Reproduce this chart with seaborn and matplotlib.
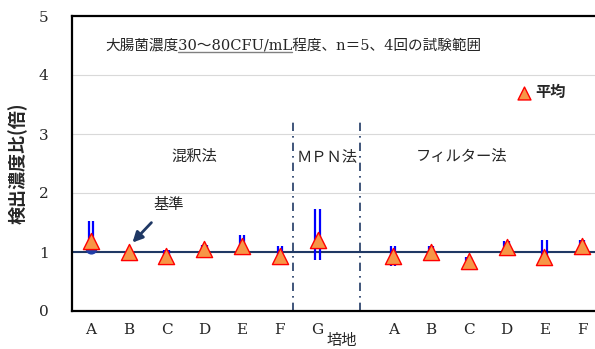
import numpy as np
import pandas as pd
import matplotlib
matplotlib.use("Agg")
import matplotlib.pyplot as plt
import seaborn as sns

# --- data ---
labels = ["A", "B", "C", "D", "E", "F", "G", "", "A", "B", "C", "D", "E", "F"]
mean_ratio = [1.18, 1.00, 0.93, 1.05, 1.11, 0.93, 1.20, np.nan,
              0.93, 1.00, 0.85, 1.09, 0.92, 1.10]
range_low = [1.07, 0.98, 0.92, 1.00, 1.08, 0.78, 0.87, np.nan,
             0.77, 0.97, 0.85, 1.02, 0.92, 1.03]
range_high = [1.52, 1.02, 1.04, 1.12, 1.28, 1.10, 1.73, np.nan,
              1.11, 1.10, 0.91, 1.19, 1.20, 1.21]
extra_x = [0]
extra_y = [1.07]
baseline = 1.0
method_split = [5.35, 7.12]
method_names = ["混釈法", "ＭＰＮ法", "フィルター法"]
method_pos = [2.75, 6.25, 9.8]
title_text = "大腸菌濃度30〜80CFU/mL程度、n＝5、4回の試験範囲"

sns.set_style("white")
plt.rcParams["font.family"] = ["Noto Sans CJK JP", "DejaVu Sans"]
serif = ["DejaVu Serif", "Noto Sans CJK JP"]

df = pd.DataFrame({"x": np.arange(len(labels)), "y": mean_ratio,
                   "lo": range_low, "hi": range_high})

fig = plt.figure(figsize=(5.95, 3.49), dpi=100)
ax = fig.add_axes([72 / 595, 1 - 311 / 349, 529 / 595, 295 / 349])

ax.set_xlim(-0.5, len(labels) - 0.5)
ax.set_ylim(0, 5)
for yv in [1, 2, 3, 4]:
    ax.axhline(yv, color="#d9d9d9", lw=0.8, zorder=0)
ax.axhline(baseline, color="#1f3864", lw=1.5, zorder=1)
ax.vlines(method_split, 0, 3.25, color="#1f3864", lw=1.2,
          linestyles=[(0, (5, 3, 1, 3))], zorder=1)

d = df.dropna()
ax.vlines(d["x"] - 0.06, d["lo"], d["hi"], color="#0000ff", lw=1.6, zorder=2)
ax.vlines(d["x"] + 0.06, d["lo"], d["hi"], color="#0000ff", lw=1.6, zorder=2)
ax.scatter(extra_x, extra_y, s=60, color="#1f3ea8", zorder=3)
sns.scatterplot(data=d, x="x", y="y", marker="^", s=135, color="#f79646",
                edgecolor="#ff0000", linewidth=1, zorder=4, ax=ax, label="平均")

ax.legend(loc="center left", bbox_to_anchor=(0.838, 0.742), frameon=False,
          handletextpad=0.1, borderpad=0, borderaxespad=0,
          handlelength=1.2, markerscale=0.8,
          prop={"family": "Noto Sans CJK JP", "weight": "bold", "size": 11})

for name, xp in zip(method_names, method_pos):
    ax.text(xp, 2.62, name, ha="center", va="center", fontsize=11)
title = ax.text(0.37, 4.5, title_text, ha="left", va="center", fontsize=10.5,
                family=serif)

# underline under the "30〜80CFU/mL" part of the note
fig.canvas.draw()
r = fig.canvas.get_renderer()
head = ax.text(0.37, 4.5, "大腸菌濃度", fontsize=10.5, family=serif, va="center")
part = ax.text(0.37, 4.5, "大腸菌濃度30〜80CFU/mL", fontsize=10.5, family=serif,
               va="center")
inv = ax.transData.inverted()
x0 = inv.transform(head.get_window_extent(r).extents[2:])[0]
bb = part.get_window_extent(r)
x1, yb = inv.transform((bb.x1, bb.y0 + 1))
head.remove()
part.remove()
ax.plot([x0, x1], [yb, yb], color="#808080", lw=1, zorder=3)

ax.annotate("基準", xy=(1.1, 1.16), xytext=(2.05, 1.8), ha="center", va="center",
            fontsize=11,
            arrowprops=dict(arrowstyle="-|>", color="#1f3864", lw=2,
                            mutation_scale=15, shrinkA=6, shrinkB=0))

ax.set_xticks(np.arange(len(labels)))
ax.set_xticklabels(labels, family=serif, fontsize=11)
ax.set_xticks(np.arange(len(labels) - 1) + 0.5, minor=True)
ax.tick_params(axis="x", which="major", length=0, pad=9)
ax.tick_params(axis="x", which="minor", direction="in", length=4, width=1.5)
ax.set_yticks([0, 1, 2, 3, 4, 5])
ax.set_yticklabels(["0", "1", "2", "3", "4", "5"], family=serif, fontsize=11)
ax.tick_params(axis="y", direction="in", length=4, width=1.5, pad=17)

for side in ["left", "bottom", "top"]:
    ax.spines[side].set_color("black")
    ax.spines[side].set_linewidth(1.6)
ax.spines["right"].set_visible(False)

ax.set_ylabel("検出濃度比(倍)", fontsize=13, fontweight="bold", labelpad=8)
ax.set_xlabel("培地", fontsize=11, labelpad=0)
ax.xaxis.set_label_coords(0.51, -0.072)

fig.savefig("out.png", dpi=100)
